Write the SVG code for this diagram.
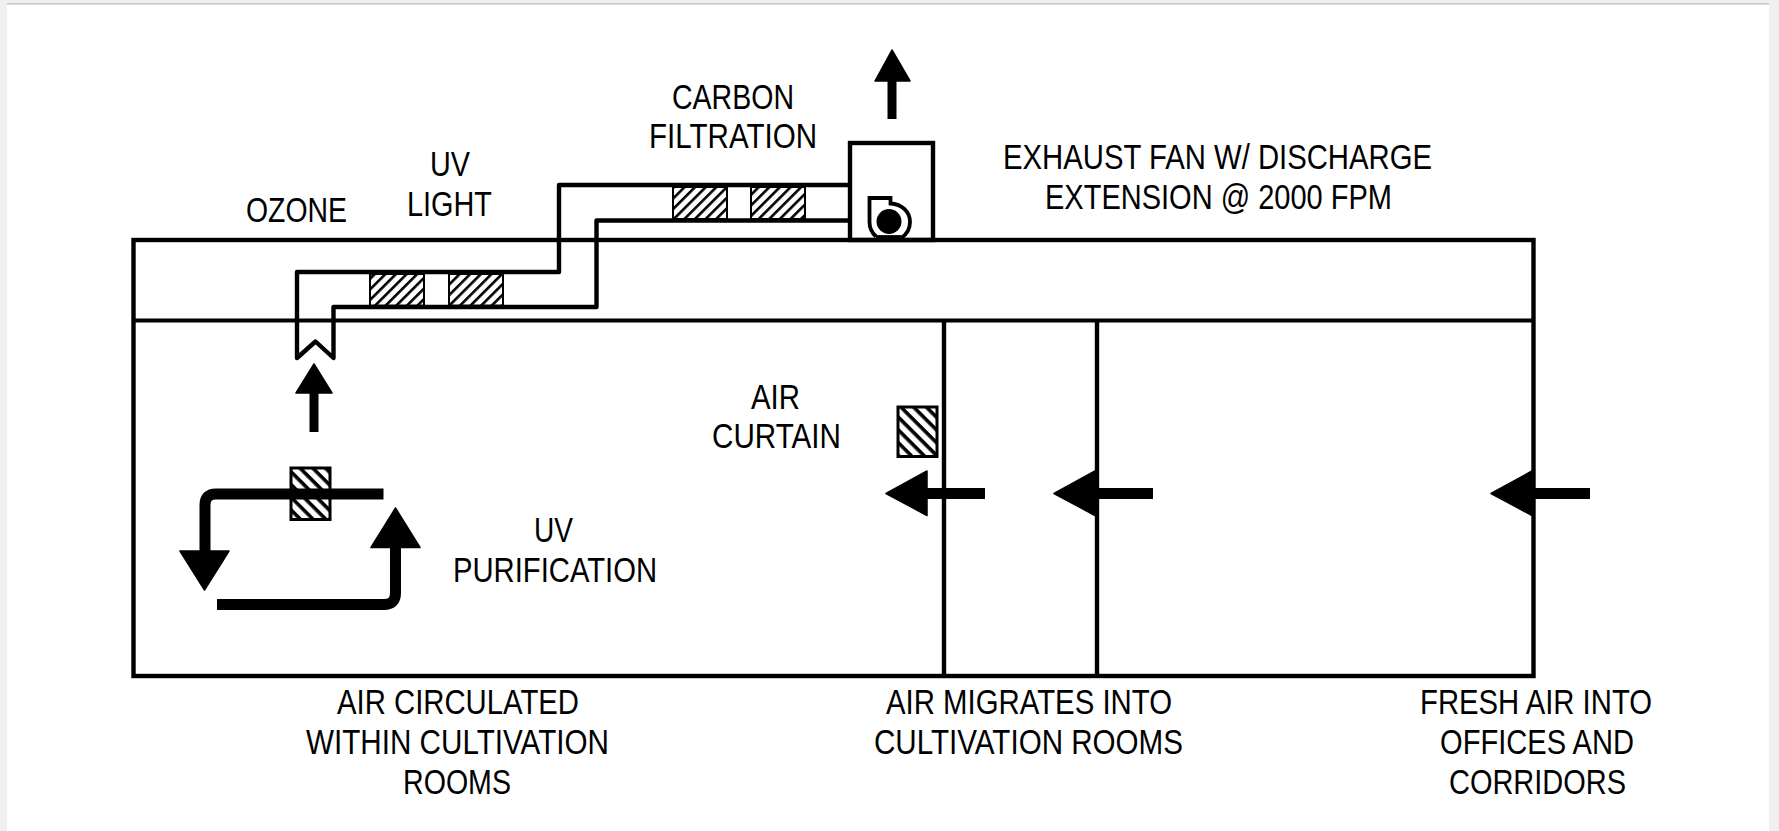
<svg xmlns="http://www.w3.org/2000/svg" width="1779" height="831" viewBox="0 0 1779 831">
<style>
.w{fill:none;stroke:#000;stroke-width:4.4;stroke-linejoin:miter}
.d{fill:none;stroke:#000;stroke-width:4.4;stroke-linejoin:round;stroke-linecap:round}
.m{fill:none;stroke:#000;stroke-width:3.8}
.a{fill:none;stroke:#000;stroke-width:11;stroke-linecap:butt;stroke-linejoin:round}
.h{fill:#000;stroke:#000;stroke-width:1.5;stroke-linejoin:round}
.t{font-family:"Liberation Sans",Arial,sans-serif;font-size:35px;fill:#000}
.f1{fill:url(#hf);stroke:#000;stroke-width:2}
.f2{fill:url(#hb);stroke:#000;stroke-width:3}
</style>
<defs>
<pattern id="hf" width="7.5" height="7.5" patternUnits="userSpaceOnUse" patternTransform="rotate(-45)"><rect width="7.5" height="7.5" fill="#fff"/><rect width="7.5" height="2.6" fill="#000"/></pattern>
<pattern id="hb" width="9" height="9" patternUnits="userSpaceOnUse" patternTransform="rotate(45)"><rect width="9" height="9" fill="#fff"/><rect width="9" height="3.6" fill="#000"/></pattern>
</defs>
<rect width="1779" height="831" fill="#f0f0f0"/>
<rect x="7" y="3" width="1762" height="828" fill="#fff"/>
<rect x="7" y="3" width="1762" height="1.6" fill="#c8c8c8"/>

<g id="building">
<rect class="w" x="133.500" y="240" width="1400" height="436"/>
<path class="m" d="M133 320.500H1534"/>
<path class="w" d="M944 320V676M1097 320V676"/>
</g>

<g id="ozone-duct">
<path class="d" d="M849 185H559V272H297V358L315.500 341.500L333.500 358V307H596.500V220.500H849"/>
</g>

<g id="uv-light-filters">
<rect class="f1" x="370" y="274" width="54" height="31.500"/>
<rect class="f1" x="449" y="274" width="54" height="31.500"/>
</g>
<g id="carbon-filters">
<rect class="f1" x="673" y="187" width="54" height="32"/>
<rect class="f1" x="751" y="187" width="54" height="32"/>
</g>

<g id="exhaust-fan">
<rect class="w" x="850" y="143" width="83" height="97" fill="none"/>
<path fill="none" stroke="#000" stroke-width="3.800" d="M876 236.500C871 232 869.500 228 869.500 222V198H890.500V203.500C902 204 910 212 910 222C910 230 906 235 901 238"/>
<path fill="none" stroke="#000" stroke-width="3.800" d="M876 237H901"/>
<circle cx="889" cy="221.500" r="12.500" fill="#000"/>
</g>

<g id="air-curtain-filter">
<rect class="f2" x="898" y="407" width="39" height="49.500"/>
</g>
<g id="uv-purification-filter">
<rect class="f2" x="291" y="468" width="39" height="51.500"/>
</g>

<g id="connectors">
<path class="a" d="M892 119V80" style="stroke-width:9"/>
<polygon class="h" points="892,50 875,81 910,81"/>
<path class="a" d="M314 432V392" style="stroke-width:9"/>
<polygon class="h" points="314,364 296,393 332,393"/>
<path class="a" d="M383.500 494H216Q205 494 205 505V552"/>
<polygon class="h" points="204.500,590 180,551 229,551"/>
<path class="a" d="M217 604.500H384Q395.500 604.500 395.500 593V546" style="stroke-linecap:butt"/>
<polygon class="h" points="395.500,508 371,547.500 420,547.500"/>
<path class="a" d="M985 493.500H925"/>
<polygon class="h" points="886,493.500 927,471 927,515.500"/>
<path class="a" d="M1153 493.500H1094"/>
<polygon class="h" points="1054,493.500 1095,471 1095,515.500"/>
<path class="a" d="M1590 493.500H1530"/>
<polygon class="h" points="1491,493.500 1532,471 1532,515.500"/>
</g>

<g id="labels">
<text class="t" x="672" y="109" textLength="122" lengthAdjust="spacingAndGlyphs">CARBON</text>
<text class="t" x="649" y="148" textLength="168" lengthAdjust="spacingAndGlyphs">FILTRATION</text>
<text class="t" x="430" y="176" textLength="40" lengthAdjust="spacingAndGlyphs">UV</text>
<text class="t" x="407" y="216" textLength="85" lengthAdjust="spacingAndGlyphs">LIGHT</text>
<text class="t" x="246" y="222" textLength="101" lengthAdjust="spacingAndGlyphs">OZONE</text>
<text class="t" x="1003" y="169" textLength="429" lengthAdjust="spacingAndGlyphs">EXHAUST FAN W/ DISCHARGE</text>
<text class="t" x="1045" y="209" textLength="347" lengthAdjust="spacingAndGlyphs">EXTENSION @ 2000 FPM</text>
<text class="t" x="751" y="409" textLength="49" lengthAdjust="spacingAndGlyphs">AIR</text>
<text class="t" x="712" y="448" textLength="129" lengthAdjust="spacingAndGlyphs">CURTAIN</text>
<text class="t" x="534" y="542" textLength="39" lengthAdjust="spacingAndGlyphs">UV</text>
<text class="t" x="453" y="582" textLength="204" lengthAdjust="spacingAndGlyphs">PURIFICATION</text>
<text class="t" x="337" y="714" textLength="242" lengthAdjust="spacingAndGlyphs">AIR CIRCULATED</text>
<text class="t" x="306" y="754" textLength="303" lengthAdjust="spacingAndGlyphs">WITHIN CULTIVATION</text>
<text class="t" x="403" y="794" textLength="108" lengthAdjust="spacingAndGlyphs">ROOMS</text>
<text class="t" x="886" y="714" textLength="286" lengthAdjust="spacingAndGlyphs">AIR MIGRATES INTO</text>
<text class="t" x="874" y="754" textLength="309" lengthAdjust="spacingAndGlyphs">CULTIVATION ROOMS</text>
<text class="t" x="1420" y="714" textLength="232" lengthAdjust="spacingAndGlyphs">FRESH AIR INTO</text>
<text class="t" x="1440" y="754" textLength="194" lengthAdjust="spacingAndGlyphs">OFFICES AND</text>
<text class="t" x="1449" y="794" textLength="177" lengthAdjust="spacingAndGlyphs">CORRIDORS</text>
</g>
</svg>
